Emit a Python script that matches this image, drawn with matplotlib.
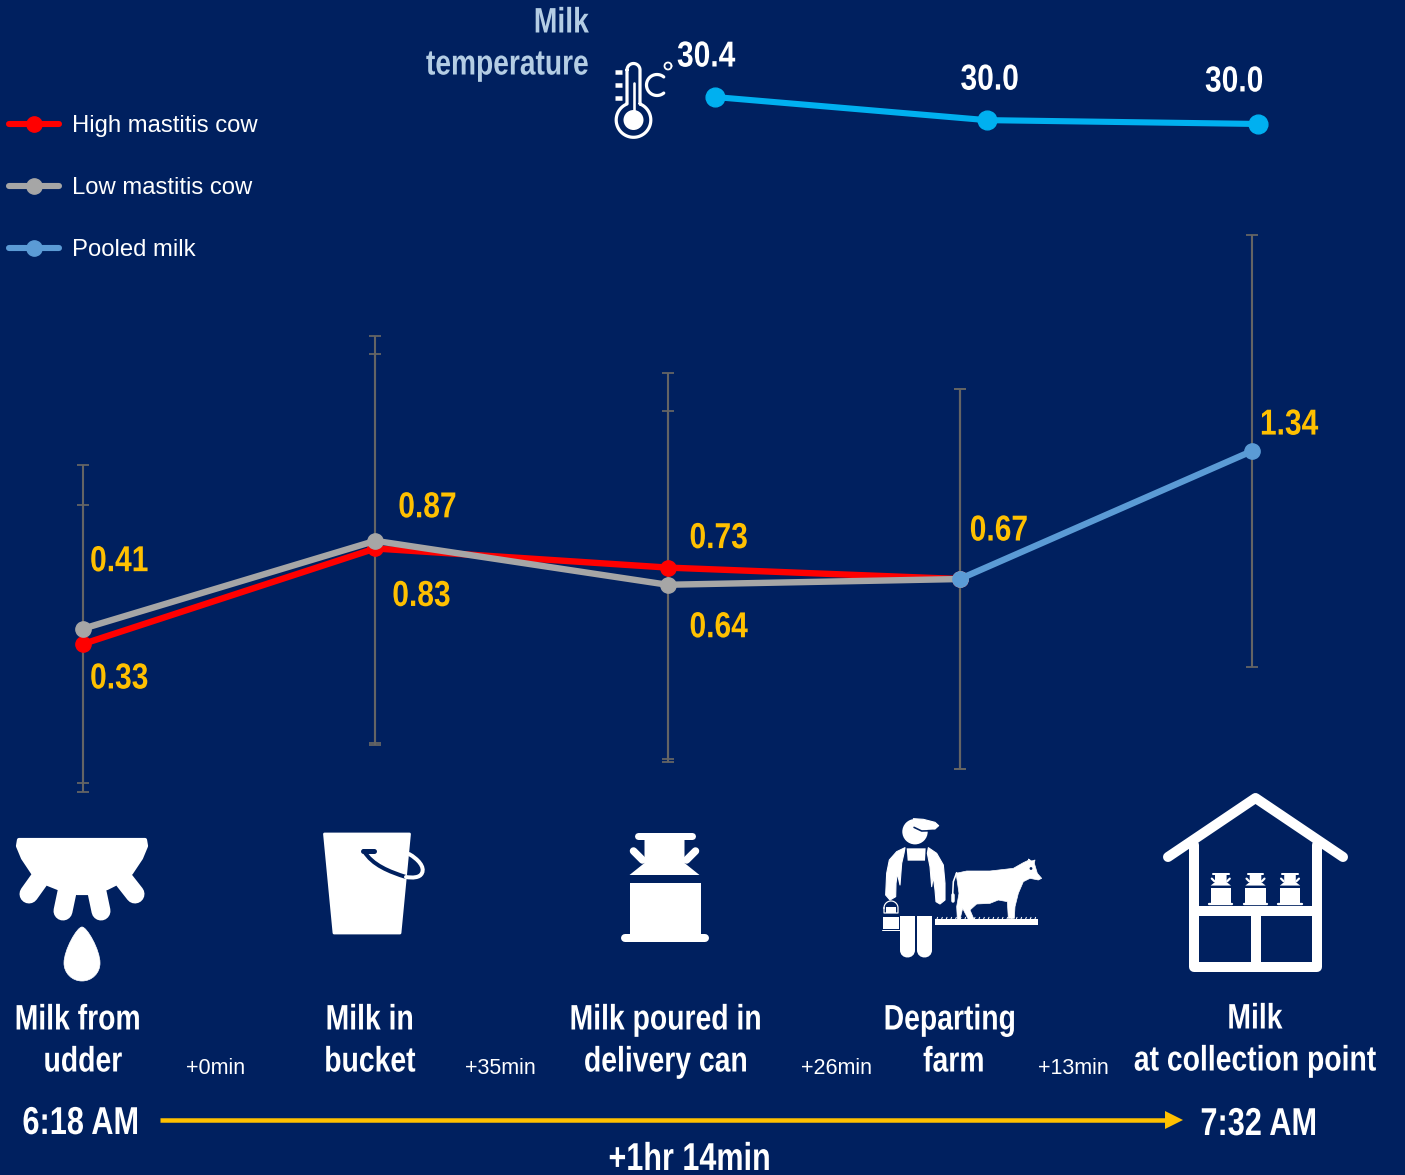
import matplotlib
matplotlib.use("Agg")
import matplotlib.pyplot as plt
import numpy as np
from matplotlib.lines import Line2D
from matplotlib.patches import Circle, PathPatch, Polygon
from matplotlib.path import Path
from matplotlib.patheffects import AbstractPathEffect
from matplotlib.transforms import Affine2D

W, H = 1405, 1175
BG = "#00205F"
GOLD = "#FFC000"
FONT = ["Liberation Sans", "DejaVu Sans"]

# somatic cell counts along the chain, with their standard deviations
stages_high = [0, 1, 2, 3]
high_mastitis = [0.33, 0.83, 0.73, 0.67]
high_err = [0.73, 1.02, 1.02, 0.995]
stages_low = [0, 1, 2, 3]
low_mastitis = [0.41, 0.87, 0.64, 0.67]
low_err = [0.857, 1.07, 0.91, 0.995]
stages_pooled = [3, 4]
pooled = [0.67, 1.34]
pooled_err = [0.995, 1.13]

temp_stages = [0, 1, 2]
temperature = [30.4, 30.04, 29.98]

stage_names = [["Milk from", "udder"], ["Milk in", "bucket"],
               ["Milk poured in", "delivery can"], ["Departing", "farm"],
               ["Milk", "at collection point"]]
time_steps = ["+0min", "+35min", "+26min", "+13min"]
start_time = "6:18 AM"
end_time = "7:32 AM"
total_time = "+1hr 14min"


class Squeeze(AbstractPathEffect):
    # narrows the glyphs horizontally, no condensed face is installed
    def __init__(self, sx, frac=0.5, drop=0):
        super().__init__()
        self.sx = sx
        self.frac = frac
        self.drop = drop

    def draw_path(self, renderer, gc, tpath, affine, rgbFace=None):
        w = tpath.get_extents().x1
        shift = w * (1 - self.sx) * self.frac
        squeezed = Affine2D().scale(self.sx, 1).translate(shift, 0) + affine + Affine2D().translate(0, -self.drop)
        renderer.draw_path(gc, tpath, squeezed, rgbFace)


def axes_px(left, top, right, bottom):
    a = fig.add_axes([left / W, 1 - bottom / H, (right - left) / W, (bottom - top) / H])
    a.axis("off")
    a.patch.set_alpha(0)
    return a


def fill(points, color="white", edge=0.0):
    overlay.add_patch(Polygon(points, closed=True, fc=color, ec=color, lw=edge, joinstyle="round"))


def stroke(points, width, color="white", cap="round"):
    xs, ys = zip(*points)
    overlay.plot(xs, ys, color=color, lw=width * 72 / 100, solid_capstyle=cap, solid_joinstyle="round")


def curve(start, *segments, width=None, color="white", filled=False):
    # cubic bezier path, each segment being three points
    verts = [start]
    codes = [Path.MOVETO]
    for seg in segments:
        verts += list(seg)
        codes += [Path.CURVE4] * 3
    if filled:
        overlay.add_patch(PathPatch(Path(verts, codes), fc=color, ec=color, lw=0.5))
    else:
        overlay.add_patch(PathPatch(Path(verts, codes), fc="none", ec=color,
                                    lw=width * 72 / 100, capstyle="round"))


def arc(cx, cy, r, a0, a1):
    t = np.radians(np.linspace(a0, a1, 60))
    return list(zip(cx + r * np.cos(t), cy + r * np.sin(t)))


def farm(points):
    # farmer and cow outlines were laid out on a 3x grid
    return [(880 + x / 3, 810 + y / 3) for x, y in points]


def draw_can(cx, bottom, s):
    def p(x, y):
        return (cx + x * s, bottom + y * s)
    stroke([p(-27, -106.5), p(27, -106.5)], 7 * s)
    fill([p(-20, -106), p(20, -106), p(20, -79), p(35, -67), p(-35, -67), p(-20, -79)])
    stroke([p(-31, -91), p(-22, -82)], 7.5 * s)
    stroke([p(31, -91), p(22, -82)], 7.5 * s)
    fill([p(-35, -59), p(36, -59), p(36, -6), p(-35, -6)])
    stroke([p(-40, -4), p(40, -4)], 8 * s)


def draw_udder():
    fill([(19, 840), (145, 840), (146, 846), (141, 858), (131, 873), (115, 884), (107, 888), (88, 893),
          (77, 893), (58, 888), (48, 884), (33, 873), (23, 858), (18, 846)], edge=3)
    stroke([(39, 880), (29, 894)], 19)
    stroke([(67, 892), (63, 911)], 19)
    stroke([(97, 892), (101, 911)], 19)
    stroke([(124, 880), (135, 894)], 19)
    curve((82, 927),
          [(87, 927), (100, 950), (100, 963)],
          [(100, 973), (92, 981), (82, 981)],
          [(72, 981), (64, 973), (64, 963)],
          [(64, 950), (77, 927), (82, 927)], filled=True)


def draw_bucket():
    fill([(324.5, 834), (409.5, 834), (400, 933), (334, 933)], edge=2)
    stroke([(363, 851), (374, 851)], 5, BG)
    curve((364, 851), [(372, 865), (390, 872), (406, 877)], width=4, color=BG)
    curve((409, 854),
          [(418, 859), (425, 867), (422, 873)],
          [(420, 878), (412, 878), (406, 877)], width=4)


def draw_farmer():
    overlay.add_patch(Circle((915, 831.7), 12.7, fc="white", ec="none"))
    fill(farm([(100, 26), (130, 28), (165, 37), (176, 47), (165, 57), (140, 58), (115, 55)]), edge=0.8)
    stroke(farm([(102, 52), (125, 63), (160, 62)]), 1.6, BG)
    fill(farm([(80, 115), (137, 115), (135, 152), (83, 152)]))
    # arms either side of the bib
    fill(farm([(75, 113), (50, 125), (28, 150), (20, 190), (17, 255), (30, 270), (47, 260),
               (48, 220), (52, 190), (60, 225), (65, 160), (72, 130)]), edge=0.8)
    fill(farm([(145, 113), (170, 130), (190, 165), (195, 220), (195, 270), (180, 282), (168, 275),
               (165, 240), (160, 200), (155, 230), (150, 170), (142, 130)]), edge=0.8)
    # legs
    for x0, x1 in ((900, 915), (917, 932)):
        overlay.add_patch(PathPatch(Path(
            [(x0, 916), (x1, 916), (x1, 950), (x1, 960), (x0, 960), (x0, 950), (x0, 916)],
            [Path.MOVETO, Path.LINETO, Path.LINETO, Path.CURVE4, Path.CURVE4, Path.CURVE4, Path.CLOSEPOLY]),
            fc="white", ec="none"))
    # pail in the left hand
    fill(farm([(8, 320), (58, 320), (58, 358), (8, 358)]))
    stroke(farm([(5, 361), (60, 361)]), 1)
    stroke(arc(891, 908, 7, 180, 360) + [(898, 913), (884, 913), (884, 908)], 1.2)
    fill([(886, 907), (896, 907), (896, 913), (886, 913)])


def draw_cow():
    fill(farm([(228, 190), (260, 183), (330, 183), (400, 175), (430, 158), (447, 150), (445, 147),
               (455, 153), (465, 150), (463, 160), (472, 190), (485, 205), (475, 210), (450, 205),
               (430, 215), (415, 250), (405, 290), (403, 325), (385, 325), (382, 275), (355, 270),
               (330, 280), (290, 282), (270, 300), (282, 328), (265, 328), (248, 295), (240, 328),
               (232, 328), (230, 290), (237, 250), (232, 215)]), edge=0.5)
    stroke(farm([(230, 188), (220, 215), (218, 255)]), 1.6)
    stroke(farm([(218, 255), (218, 272)]), 3.5)
    overlay.add_patch(Circle((1031, 868.5), 1.4, fc=BG, ec="none"))
    # grass strip
    fill(farm([(165, 328), (473, 328), (473, 345), (165, 345)]))
    for x in range(170, 472, 14):
        stroke(farm([(x, 329), (x + 3, 322)]), 1)


def draw_house():
    stroke([(1168, 857), (1255.5, 798), (1343, 857)], 10)
    stroke([(1194, 845), (1194, 967), (1317, 967), (1317, 845)], 10)
    stroke([(1194, 911), (1317, 911)], 10, cap="butt")
    stroke([(1255.5, 911), (1255.5, 967)], 10, cap="butt")
    for cx in (1220.8, 1255.5, 1290):
        draw_can(cx, 905, 0.29)


def draw_thermometer():
    tube = arc(633.5, 70, 6.5, 180, 360) + [(640, 104)] + arc(633.5, 120, 17.3, -68, 248) + [(627, 70)]
    stroke(tube, 3.2)
    stroke([(633.5, 83), (633.5, 115)], 2.6)
    overlay.add_patch(Circle((633.5, 120), 10, fc="white", ec="none"))
    for y in (72, 85, 98):
        stroke([(615, y), (622, y)], 4.5, cap="butt")
    stroke(arc(657, 85, 10.5, 50, 310), 3.2)
    stroke(arc(668, 66, 3.5, 0, 360), 1.8)


def narrow_text(x, y, s, size=25.5, sx=0.8, ha="center", color="white", drop=0):
    frac = {"left": 0, "center": 0.5, "right": 1}[ha]
    overlay.text(x, y, s, color=color, family=FONT, weight="bold", fontsize=size, ha=ha, va="center",
                 path_effects=[Squeeze(sx, frac, drop)])


fig = plt.figure(figsize=(W / 100, H / 100), dpi=100, facecolor=BG)

# overlay in pixel units for the icons and the timeline, y pointing down
overlay = fig.add_axes([0, 0, 1, 1])
overlay.set_xlim(0, W)
overlay.set_ylim(H, 0)
overlay.axis("off")

# main chart, stage index against value
ax = axes_px(10, 229.5, 1325, 802.5)
ax.set_xlim(-0.25, 4.25)
ax.set_ylim(-0.5, 2.5)

bar_style = dict(fmt="none", ecolor="#646464", elinewidth=1.5, capsize=4.5, capthick=1.3, zorder=1)
ax.errorbar(stages_high, high_mastitis, yerr=high_err, **bar_style)
ax.errorbar(stages_low, low_mastitis, yerr=low_err, **bar_style)
ax.errorbar(stages_pooled, pooled, yerr=pooled_err, **bar_style)

line_style = dict(lw=4.6, marker="o", ms=11, solid_capstyle="round", clip_on=False)
ax.plot(stages_high, high_mastitis, color="#FF0000", zorder=3, **line_style)
ax.plot(stages_low, low_mastitis, color="#A6A6A6", zorder=4, **line_style)
ax.plot(stages_pooled, pooled, color="#5B9BD5", zorder=5, **line_style)


def value_label(a, x, y, dx, dy, text, color):
    a.annotate(text, xy=(x, y), xytext=(dx, dy), textcoords="offset pixels", color=color,
               family=FONT, weight="bold", fontsize=26, ha="left", va="center", zorder=6,
               path_effects=[Squeeze(0.83, 0)])


high_offsets = [(7, -35), (17, -48), (22, 29)]
low_offsets = [(7, 67), (23, 33), (22, -43)]
for i in range(3):
    value_label(ax, stages_high[i], high_mastitis[i], *high_offsets[i], f"{high_mastitis[i]:.2f}", GOLD)
    value_label(ax, stages_low[i], low_mastitis[i], *low_offsets[i], f"{low_mastitis[i]:.2f}", GOLD)
value_label(ax, stages_pooled[0], pooled[0], 10, 48, f"{pooled[0]:.2f}", GOLD)
value_label(ax, stages_pooled[1], pooled[1], 8, 26, f"{pooled[1]:.2f}", GOLD)

# milk temperature strip on its own scale
ax_temp = axes_px(715 - 27.15, 97 - 6.39, 1258 + 27.15, 124 + 6.39)
ax_temp.set_xlim(-0.1, 2.1)
ax_temp.set_ylim(temperature[2] - 0.1, temperature[0] + 0.1)
ax_temp.plot(temp_stages, temperature, color="#00B0F0", lw=4.4, marker="o", ms=13.5,
             solid_capstyle="round", clip_on=False)
temp_offsets = [(-38, 40), (-26, 40), (-53, 42)]
for x, t, off in zip(temp_stages, temperature, temp_offsets):
    value_label(ax_temp, x, t, off[0], off[1], f"{t:.1f}", "white")

narrow_text(589, 23, "Milk", ha="right", color="#B4CDE4")
narrow_text(589, 65, "temperature", ha="right", sx=0.795, color="#B4CDE4")

# legend
handles = [Line2D([], [], color=c, lw=4.4, marker="o", ms=11, solid_capstyle="round")
           for c in ("#FF0000", "#A6A6A6", "#5B9BD5")]
fig.legend(handles, ["High mastitis cow", "Low mastitis cow", "Pooled milk"], frameon=False,
           loc="upper left", bbox_to_anchor=(9 / W, 1 - 115 / H), borderaxespad=0, borderpad=0,
           handlelength=2.08, handletextpad=0.54, labelspacing=1.68, labelcolor="white",
           prop={"family": FONT, "size": 17.2})

# icons
draw_udder()
draw_bucket()
draw_can(664.5, 942, 1.0)
draw_farmer()
draw_cow()
draw_house()
draw_thermometer()

# stage captions
caption_x = [(78, 83), (370, 370), (666, 666), (950, 954), (1255, 1255)]
caption_y = [(1020, 1062), (1020, 1062), (1020, 1062), (1020, 1062), (1019, 1061)]
for lines, xs, ys in zip(stage_names, caption_x, caption_y):
    for s, x, y in zip(lines, xs, ys):
        narrow_text(x, y, s)

for s, x in zip(time_steps, (216, 500, 836, 1073)):
    overlay.text(x, 1069, s, color="white", family=FONT, fontsize=15.5, ha="center", va="center")

# timeline, the total sits against the lower edge so its box is lifted and the glyphs dropped
narrow_text(81, 1124, start_time, size=28, sx=0.79)
narrow_text(1259, 1125, end_time, size=28, sx=0.79)
narrow_text(690, 1153, total_time, size=28, sx=0.786, drop=7)
stroke([(160, 1120), (1168, 1120)], 4.5, GOLD, cap="butt")
fill([(1165, 1111), (1183, 1120), (1165, 1129)], GOLD)

fig.savefig("out.png", dpi=100, facecolor=BG)
